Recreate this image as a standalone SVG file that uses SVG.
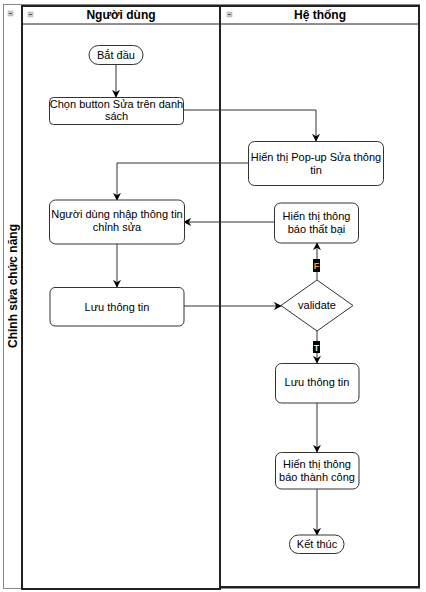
<svg xmlns="http://www.w3.org/2000/svg" width="426" height="592" viewBox="0 0 426 592">
<defs>
<marker id="arr" viewBox="0 0 10 10" refX="9" refY="5" markerWidth="8" markerHeight="8" markerUnits="userSpaceOnUse" orient="auto">
<path d="M0,0 L10,5 L0,10 L3,5 Z" fill="#000"/>
</marker>
</defs>
<style>
text{font-family:"Liberation Sans",Arial,sans-serif;font-size:11px;fill:#000;text-anchor:middle;dominant-baseline:central}
.hdr{font-size:12px;font-weight:bold}
.box{fill:#fff;stroke:#333;stroke-width:1}
.lane{fill:#fff;stroke:#222;stroke-width:2}
.pool{fill:#fff;stroke:#888;stroke-width:1}
.icon{fill:#ccc;stroke:#aaa;stroke-width:0.5}
.minus{stroke:#555;stroke-width:1}
.conn{fill:none;stroke:#333;stroke-width:1;marker-end:url(#arr)}
.lbl{fill:#000}
</style>
<rect width="426" height="592" fill="#fff"/>
<g id="pool">
<rect class="pool" x="3.5" y="4.5" width="416" height="584"/>
<rect class="icon" x="8" y="11" width="5" height="5"/>
<line class="minus" x1="9" y1="13.5" x2="12" y2="13.5"/>
<text class="hdr" transform="translate(13,286) rotate(-90)">Chỉnh sửa chức năng</text>
</g>
<g id="lane-user">
<rect class="lane" x="22" y="6" width="198" height="583"/>
<line x1="22" y1="24" x2="220" y2="24" stroke="#222" stroke-width="1"/>
<rect class="icon" x="28" y="12" width="5" height="5"/>
<line class="minus" x1="29" y1="14.5" x2="32" y2="14.5"/>
<text class="hdr" x="121" y="15">Người dùng</text>
</g>
<g id="lane-system">
<rect class="lane" x="220" y="6" width="199" height="581"/>
<line x1="220" y1="24" x2="419" y2="24" stroke="#222" stroke-width="1"/>
<rect class="icon" x="227" y="12" width="5" height="5"/>
<line class="minus" x1="228" y1="14.5" x2="231" y2="14.5"/>
<text class="hdr" x="320" y="15">Hệ thống</text>
</g>
<g id="connectors">
<path class="conn" d="M116,64 L116,97"/>
<path class="conn" d="M183,110 L316,110 L316,141"/>
<path class="conn" d="M248,163 L117,163 L117,200"/>
<path class="conn" d="M117,244 L117,287"/>
<path class="conn" d="M184,306 L281,306"/>
<path class="conn" d="M317,280 L317,243"/>
<path class="conn" d="M274,222 L184,222"/>
<path class="conn" d="M317,331 L317,363"/>
<path class="conn" d="M317,403 L317,452"/>
<path class="conn" d="M317,489 L317,535"/>
<g id="label-F">
<rect class="lbl" x="313" y="259" width="7" height="13"/>
<text x="316.5" y="266" style="font-size:9px;font-weight:bold;fill:#f5a623">F</text>
</g>
<g id="label-T">
<rect class="lbl" x="313" y="341" width="7" height="12"/>
<text x="316.5" y="347.5" style="font-size:9px;font-weight:bold;fill:#cfe6ff">T</text>
</g>
</g>
<g id="start">
<rect class="box" x="89" y="45.5" width="54" height="19" rx="9.5"/>
<text x="116" y="55">Bắt đầu</text>
</g>
<g id="chon-button">
<rect class="box" x="49.5" y="97.5" width="134" height="27" rx="4"/>
<text x="116.5" y="104">Chọn button Sửa trên danh</text>
<text x="116.5" y="116">sách</text>
</g>
<g id="popup">
<rect class="box" x="248.5" y="141.5" width="135" height="44" rx="6"/>
<text x="316" y="157">Hiển thị Pop-up Sửa thông</text>
<text x="316" y="170">tin</text>
</g>
<g id="nhap-thong-tin">
<rect class="box" x="49.5" y="200" width="135" height="44" rx="6"/>
<text x="117" y="214">Người dùng nhập thông tin</text>
<text x="117" y="227">chỉnh sửa</text>
</g>
<g id="that-bai">
<rect class="box" x="274.5" y="203" width="84" height="40" rx="6"/>
<text x="316.5" y="216">Hiển thị thông</text>
<text x="316.5" y="229">báo thất bại</text>
</g>
<g id="luu-user">
<rect class="box" x="50" y="287.5" width="134" height="38.5" rx="5"/>
<text x="117" y="306.5">Lưu thông tin</text>
</g>
<g id="validate">
<polygon class="box" points="317,280 353,305.5 317,331 281,305.5"/>
<text x="317" y="305">validate</text>
</g>
<g id="luu-system">
<rect class="box" x="275.5" y="363.5" width="83.5" height="39.5" rx="6"/>
<text x="317" y="382">Lưu thông tin</text>
</g>
<g id="thanh-cong">
<rect class="box" x="275.5" y="452.5" width="83.5" height="36.5" rx="6"/>
<text x="317" y="464">Hiển thị thông</text>
<text x="317" y="477">báo thành công</text>
</g>
<g id="end">
<rect class="box" x="289.5" y="535" width="54.5" height="18.5" rx="9"/>
<text x="317" y="544">Kết thúc</text>
</g>
</svg>
